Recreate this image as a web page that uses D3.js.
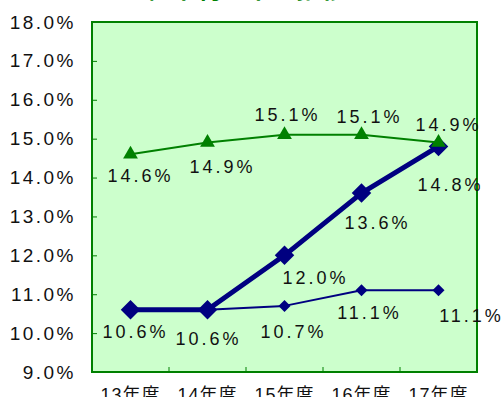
<!DOCTYPE html>
<html>
<head>
<meta charset="utf-8">
<script src="https://cdn.jsdelivr.net/npm/d3@7"></script>
<style>
  html, body { margin: 0; padding: 0; background: #ffffff; }
  svg { display: block; }
  text { font-family: "Liberation Sans", Arial, "Noto Sans CJK JP", sans-serif; fill: #111111; }
</style>
</head>
<body>
<svg id="chart" width="504" height="397"></svg>
<script>
// Fiscal-year categories and the three ratio series (percent)
const categories = ["13年度", "14年度", "15年度", "16年度", "17年度"];
const greenSeries = [14.6, 14.9, 15.1, 15.1, 14.9];
const boldSeries  = [10.6, 10.6, 12.0, 13.6, 14.8];
const thinSeries  = [10.6, 10.6, 10.7, 11.1, 11.1];
const yTicks = [9, 10, 11, 12, 13, 14, 15, 16, 17, 18];
const titleText = "（経常利益率の推移）";

// Label offsets from each point [dx, dy]; null = no label drawn
const greenLabelOffsets = [[10, 22], [15, 24], [3, -20], [8, -18], [10, -18]];
const boldLabelOffsets  = [null, null, [31, 23], [16, 30], [12, 39]];
const thinLabelOffsets  = [[5, 22], [1, 29], [9, 26], [8, 23], [33, 26]];

const svg = d3.select("#chart");
const plot = { left: 92, right: 477, top: 22, bottom: 372 };

const x = d3.scaleBand().domain(categories).range([plot.left, plot.right]);
const y = d3.scaleLinear().domain([9, 18]).range([plot.bottom, plot.top]);
const cx = c => x(c) + x.bandwidth() / 2;

// Title (sits mostly above the visible area)
svg.append("text")
  .attr("x", 246).attr("y", -2)
  .attr("text-anchor", "middle")
  .style("font-family", "'Noto Sans CJK JP', sans-serif")
  .style("font-weight", "bold")
  .style("font-size", "25px")
  .style("fill", "#008000")
  .text(titleText);

// Plot area
svg.append("rect")
  .attr("x", plot.left).attr("y", plot.top)
  .attr("width", plot.right - plot.left).attr("height", plot.bottom - plot.top)
  .attr("fill", "#ccffcc");

// Y axis with inward ticks
const yAxis = d3.axisLeft(y).tickValues(yTicks)
  .tickFormat(d => d3.format(".1f")(d) + "%")
  .tickSizeInner(-5).tickSizeOuter(0).tickPadding(16);
const gy = svg.append("g").attr("transform", `translate(${plot.left},0)`).call(yAxis);
gy.select(".domain").remove();
gy.selectAll(".tick line").attr("stroke", "#008000");
gy.selectAll(".tick text")
  .style("font-size", "19px").style("letter-spacing", "2.5px")
  .attr("fill", "#111111");

// X axis with inward ticks at band boundaries
const xAxis = d3.axisBottom(x).tickSize(0).tickPadding(0);
const gx = svg.append("g").attr("transform", `translate(0,${plot.bottom})`).call(xAxis);
gx.select(".domain").remove();
gx.selectAll(".tick text")
  .attr("y", 29).attr("dy", null)
  .style("font-size", "18px").style("letter-spacing", "1px")
  .attr("fill", "#111111");
svg.append("g").selectAll("line")
  .data(categories.slice(1))
  .join("line")
  .attr("x1", d => x(d)).attr("x2", d => x(d))
  .attr("y1", plot.bottom).attr("y2", plot.bottom - 5)
  .attr("stroke", "#008000");

// Plot border
svg.append("rect")
  .attr("x", plot.left).attr("y", plot.top)
  .attr("width", plot.right - plot.left).attr("height", plot.bottom - plot.top)
  .attr("fill", "none").attr("stroke", "#008000").attr("stroke-width", 2);

const line = d3.line().x((d, i) => cx(categories[i])).y(d => y(d));

function drawSeries(values, color, width, symbol, size, angle) {
  svg.append("path").datum(values)
    .attr("d", line).attr("fill", "none")
    .attr("stroke", color).attr("stroke-width", width)
    .attr("stroke-linejoin", "round");
  svg.append("g").selectAll("path")
    .data(values).join("path")
    .attr("d", d3.symbol().type(symbol).size(size))
    .attr("transform", (d, i) => `translate(${cx(categories[i])},${y(d)}) rotate(${angle})`)
    .attr("fill", color);
}

function drawLabels(values, offsets) {
  svg.append("g").selectAll("text")
    .data(values.map((v, i) => ({ v, i, o: offsets[i] })).filter(d => d.o))
    .join("text")
    .attr("x", d => cx(categories[d.i]) + d.o[0])
    .attr("y", d => y(d.v) + d.o[1])
    .attr("text-anchor", "middle")
    .attr("dominant-baseline", "central")
    .style("font-size", "18px").style("letter-spacing", "3px")
    .text(d => d3.format(".1f")(d.v) + "%");
}

// Navy series use squares turned 45° as diamonds
drawSeries(thinSeries, "#000080", 2, d3.symbolSquare, 72, 45);
drawSeries(boldSeries, "#000080", 5, d3.symbolSquare, 190, 45);
drawSeries(greenSeries, "#008000", 2, d3.symbolTriangle, 95, 0);

drawLabels(greenSeries, greenLabelOffsets);
drawLabels(boldSeries, boldLabelOffsets);
drawLabels(thinSeries, thinLabelOffsets);
</script>
</body>
</html>
